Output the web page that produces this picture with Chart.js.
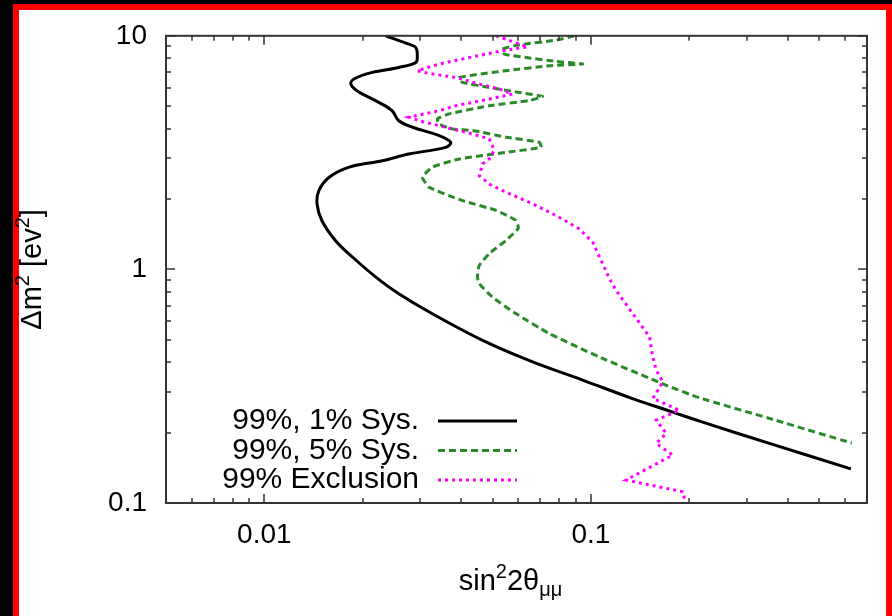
<!DOCTYPE html>
<html>
<head>
<meta charset="utf-8">
<script src="https://cdn.jsdelivr.net/npm/chart.js@4.4.1/dist/chart.umd.min.js"></script>
<style>
  html, body { margin: 0; padding: 0; background: #000; overflow: hidden; }
  .frame { position: absolute; left: 13px; top: 4px; width: 867px; height: 640px;
           border: 6px solid #f00; border-bottom: none; background: #fff; }
  .wrap { position: absolute; left: 0; top: 0; width: 892px; height: 616px; }
</style>
</head>
<body>
<div class="frame"></div>
<div class="wrap"><canvas id="chart"></canvas></div>
<script>
// 99%, 1% Sys. (solid black)
const sys1X = [0.0235, 0.0277, 0.0291, 0.0294, 0.0291, 0.0258, 0.0214, 0.0188, 0.0184, 0.0192,
  0.0224, 0.0246, 0.0258, 0.0284, 0.0343, 0.0372, 0.0359, 0.0277, 0.0230, 0.0182,
  0.0158, 0.0147, 0.0145, 0.0150, 0.0165, 0.0186, 0.0226, 0.0258, 0.0320, 0.0466,
  0.0663, 0.0943, 0.134, 0.178, 0.215, 0.37, 0.625];
const sys1Y = [10, 9.21, 8.91, 8.21, 7.69, 7.32, 6.97, 6.53, 6.22, 5.82,
  5.19, 4.78, 4.33, 4.06, 3.74, 3.50, 3.33, 3.12, 2.92, 2.74,
  2.48, 2.18, 1.91, 1.62, 1.33, 1.13, 0.897, 0.787, 0.657, 0.497,
  0.402, 0.336, 0.280, 0.245, 0.224, 0.176, 0.140];

// 99%, 5% Sys. (dashed green)
const sys5X = [0.0889, 0.0782, 0.0603, 0.0536, 0.0543, 0.0632, 0.0782, 0.0943, 0.0746, 0.0549,
  0.0395, 0.0404, 0.0488, 0.0603, 0.0711, 0.0647, 0.0488, 0.0368, 0.0339, 0.0343,
  0.0377, 0.0434, 0.0549, 0.0695, 0.0703, 0.0549, 0.0395, 0.0327, 0.0305, 0.0319,
  0.0404, 0.0512, 0.0589, 0.0599, 0.0549, 0.0488, 0.0455, 0.0449, 0.0455, 0.0499,
  0.0589, 0.0746, 0.106, 0.170, 0.215, 0.368, 0.629];
const sys5Y = [10, 9.58, 9.15, 8.77, 8.35, 8.08, 7.77, 7.57, 7.44, 7.09,
  6.63, 6.32, 6.01, 5.72, 5.50, 5.28, 5.02, 4.63, 4.41, 4.19,
  3.99, 3.93, 3.68, 3.50, 3.33, 3.17, 2.97, 2.74, 2.48, 2.25,
  1.97, 1.79, 1.62, 1.50, 1.33, 1.167, 1.04, 0.927, 0.869, 0.761,
  0.647, 0.531, 0.422, 0.319, 0.282, 0.226, 0.1805];

// 99% Exclusion (dotted magenta)
const exclX = [0.0512, 0.0549, 0.0603, 0.0640, 0.0536, 0.0434, 0.0343, 0.0294, 0.0319, 0.0386,
  0.0455, 0.0524, 0.0575, 0.0488, 0.0386, 0.0343, 0.0277, 0.0298, 0.0368, 0.0434,
  0.0488, 0.0499, 0.0505, 0.0488, 0.0466, 0.0455, 0.0488, 0.0549, 0.0663, 0.0782,
  0.0921, 0.1012, 0.1086, 0.1139, 0.1194, 0.1342, 0.1511, 0.1546, 0.1584, 0.1660,
  0.1546, 0.1867, 0.1584, 0.170, 0.1584, 0.178, 0.1281, 0.1911, 0.195];
const exclY = [10, 9.68, 9.21, 8.97, 8.63, 8.13, 7.57, 7.09, 6.90, 6.63,
  6.22, 5.92, 5.63, 5.36, 5.02, 4.78, 4.48, 4.33, 4.02, 3.80,
  3.62, 3.39, 3.22, 2.97, 2.83, 2.52, 2.32, 2.14, 1.91, 1.70,
  1.49, 1.308, 1.058, 0.913, 0.813, 0.647, 0.514, 0.422, 0.370, 0.330,
  0.280, 0.2496, 0.2263, 0.1986, 0.180, 0.1604, 0.1254, 0.1117, 0.1];

const seriesLabels = ['99%, 1% Sys.', '99%, 5% Sys.', '99% Exclusion'];

// axes
const xMin = 0.005, xMax = 0.7;
const yMin = 0.1, yMax = 10;
const xTickValues = [0.01, 0.1];
const xTickLabels = ['0.01', '0.1'];
const yTickValues = [0.1, 1, 10];
const yTickLabels = ['0.1', '1', '10'];

const FONT = "'Liberation Sans', Arial, Helvetica, sans-serif";

// minor + major log ticks between min and max
function logTicks(min, max) {
  const out = [];
  for (let e = Math.floor(Math.log10(min)); e <= Math.ceil(Math.log10(max)); e++) {
    for (let m = 1; m < 10; m++) {
      const v = +(m * Math.pow(10, e)).toPrecision(6);
      if (v >= min * 0.999 && v <= max * 1.001) out.push({ value: v });
    }
  }
  return out;
}

function isDecade(v) {
  const l = Math.log10(v);
  return Math.abs(l - Math.round(l)) < 1e-6;
}

function pts(xs, ys) {
  return xs.map((x, i) => ({ x: x, y: ys[i] }));
}

function labelFor(values, labels) {
  return (v) => {
    const i = values.findIndex(t => Math.abs(t - v) / t < 1e-6);
    return i >= 0 ? labels[i] : '';
  };
}

// text with super/subscripts
function drawRich(ctx, parts, cx, baseY, size) {
  const small = Math.round(size * 0.7);
  let total = 0;
  parts.forEach(p => {
    ctx.font = (p.s === 'n' ? size : small) + 'px ' + FONT;
    p.w = ctx.measureText(p.t).width;
    total += p.w;
  });
  let x = cx - total / 2;
  ctx.textAlign = 'left';
  ctx.textBaseline = 'alphabetic';
  parts.forEach(p => {
    ctx.font = (p.s === 'n' ? size : small) + 'px ' + FONT;
    const dy = p.s === 'sup' ? -size * 0.42 : p.s === 'sub' ? size * 0.22 : 0;
    ctx.fillText(p.t, x, baseY + dy);
    x += p.w;
  });
}

const decor = {
  id: 'decor',
  afterDraw(chart) {
    const { ctx, chartArea: a, scales: { x, y } } = chart;
    ctx.save();

    // tick marks on all four sides
    ctx.strokeStyle = '#333';
    ctx.lineWidth = 1.5;
    ctx.beginPath();
    x.ticks.forEach(t => {
      const px = Math.round(x.getPixelForValue(t.value));
      const len = isDecade(t.value) ? 9 : 5;
      ctx.moveTo(px, a.bottom); ctx.lineTo(px, a.bottom - len);
      ctx.moveTo(px, a.top); ctx.lineTo(px, a.top + len);
    });
    y.ticks.forEach(t => {
      const py = Math.round(y.getPixelForValue(t.value));
      const len = isDecade(t.value) ? 9 : 5;
      ctx.moveTo(a.left, py); ctx.lineTo(a.left + len, py);
      ctx.moveTo(a.right, py); ctx.lineTo(a.right - len, py);
    });
    ctx.stroke();

    // frame
    ctx.lineWidth = 2;
    ctx.strokeRect(a.left, a.top, a.right - a.left, a.bottom - a.top);

    // legend (text left of the line sample)
    ctx.fillStyle = '#000';
    chart.data.datasets.forEach((ds, i) => {
      const ry = a.bottom - 82 + i * 29.5;
      ctx.font = '30px ' + FONT;
      ctx.textAlign = 'right';
      ctx.textBaseline = 'middle';
      ctx.fillText(ds.label, a.left + 253, ry);
      ctx.beginPath();
      ctx.strokeStyle = ds.borderColor;
      ctx.lineWidth = ds.borderWidth;
      ctx.setLineDash(ds.borderDash || []);
      ctx.moveTo(a.left + 272, ry);
      ctx.lineTo(a.left + 351, ry);
      ctx.stroke();
      ctx.setLineDash([]);
    });

    // axis titles
    ctx.fillStyle = '#000';
    drawRich(ctx, [
      { t: 'sin', s: 'n' }, { t: '2', s: 'sup' }, { t: '2θ', s: 'n' }, { t: 'μμ', s: 'sub' }
    ], (a.left + a.right) / 2 - 6, 590, 29);

    ctx.translate(41, (a.top + a.bottom) / 2);
    ctx.rotate(-Math.PI / 2);
    drawRich(ctx, [
      { t: 'Δm', s: 'n' }, { t: '2', s: 'sup' }, { t: ' [ev', s: 'n' }, { t: '2', s: 'sup' }, { t: ']', s: 'n' }
    ], 0, 0, 29);

    ctx.restore();
  }
};

const tickFont = { family: FONT, size: 28 };

new Chart(document.getElementById('chart'), {
  type: 'scatter',
  data: {
    datasets: [
      { label: seriesLabels[0], data: pts(sys1X, sys1Y), showLine: true, borderColor: '#000000',
        borderWidth: 3, pointRadius: 0, tension: 0.35, order: 2 },
      { label: seriesLabels[1], data: pts(sys5X, sys5Y), showLine: true, borderColor: '#2a8a2a',
        borderWidth: 3, borderDash: [7, 4], pointRadius: 0, tension: 0.15, order: 1 },
      { label: seriesLabels[2], data: pts(exclX, exclY), showLine: true, borderColor: '#ff00ff',
        borderWidth: 3, borderDash: [3, 4], pointRadius: 0, tension: 0, order: 0 }
    ]
  },
  options: {
    responsive: true,
    maintainAspectRatio: false,
    animation: false,
    layout: { padding: { top: 35, right: 25, left: 0, bottom: 0 } },
    plugins: { legend: { display: false }, tooltip: { enabled: false } },
    scales: {
      x: {
        type: 'logarithmic', position: 'bottom', min: xMin, max: xMax,
        afterBuildTicks: s => { s.ticks = logTicks(xMin, xMax); },
        afterFit: s => { s.height = 113; },
        grid: { display: false, drawTicks: false },
        border: { display: false },
        ticks: { autoSkip: false, maxRotation: 0, padding: 15, color: '#000', font: tickFont,
                 callback: labelFor(xTickValues, xTickLabels) }
      },
      y: {
        type: 'logarithmic', position: 'left', min: yMin, max: yMax,
        afterBuildTicks: s => { s.ticks = logTicks(yMin, yMax); },
        afterFit: s => { s.width = 166; },
        grid: { display: false, drawTicks: false },
        border: { display: false },
        ticks: { autoSkip: false, padding: 19, color: '#000', font: tickFont,
                 callback: labelFor(yTickValues, yTickLabels) }
      }
    }
  },
  plugins: [decor]
});
</script>
</body>
</html>
